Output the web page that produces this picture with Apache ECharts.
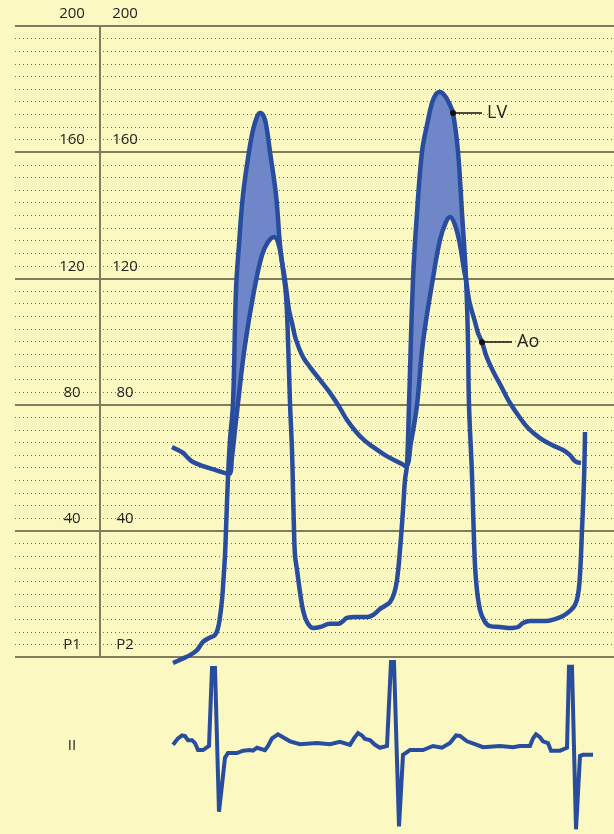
<!DOCTYPE html>
<html>
<head>
<meta charset="utf-8">
<script src="https://cdn.jsdelivr.net/npm/echarts@6/dist/echarts.min.js"></script>
<style>
html,body{margin:0;padding:0;background:#fbf8c1;}
#chart{width:614px;height:834px;}
</style>
</head>
<body>
<div id="chart"></div>
<script>
// time units (x) and pressure in mmHg (y)
const pressureTicks = [0, 40, 80, 120, 160, 200];
const lvPressure = [
  [173,-1.9],[182,-0.6],[190,0.6],[197,2.2],[203,4.8],[209,6.0],[215,7.0],[218,9.2],[220,12.7],[222,18.1],
  [223,22.2],[225,32.3],[226,40.3],[228,57.1],[230,68.8],[233,80.5],[236,116.3],[239,130.6],[243,146.4],
  [249,160.1],[253,167.0],[257,171.2],[260,172.4],[264,171.2],[267,167.0],[270,160.1],[276,146.4],[280,130.6],
  [283,122.7],[286,114.7],[288,100.5],[290,80.5],[292,65.6],[293,52.9],[294,40.3],[295,32.3],[297,27.6],
  [300,20.6],[303,14.9],[307,11.1],[313,9.2],[320,9.5],[330,10.5],[338,10.5],[343,11.4],[347,12.4],[355,12.7],
  [367,12.7],[373,13.3],[380,15.2],[385,16.2],[390,17.4],[394,20.0],[397,24.4],[400,33.9],[403,46.6],[405,56.1],
  [407,60.9],[409,79.9],[413,119.5],[417,140.7],[422,160.1],[427,168.6],[432,175.6],[436,178.4],[440,179.1],
  [445,177.8],[449,175.6],[453,172.4],[458,160.1],[462,140.7],[466,120.1],[468,99.8],[469,79.9],[472,57.7],
  [474,37.1],[476,24.4],[480,14.9],[485,11.1],[490,9.8],[500,9.5],[512,9.2],[518,9.5],[523,10.8],[530,11.4],
  [545,11.4],[555,12.0],[563,13.0],[570,14.6],[575,16.5],[578,19.7],[580,26.0],[582,40.3],[584,56.1],[585,71.3]
];
const aoPressure = [
  [172,66.6],[178,65.6],[183,64.7],[188,63.1],[193,61.8],[203,60.5],[215,59.3],[229,58.0],[232,63.4],[235,72.0],
  [238,80.5],[245,98.9],[254,116.0],[262,127.4],[268,131.5],[274,133.1],[278,131.5],[282,125.2],[285,119.5],
  [287,114.7],[289,110.0],[292,105.9],[296,100.5],[303,95.1],[310,91.9],[320,87.8],[330,83.7],[340,78.9],
  [347,75.1],[357,71.0],[365,68.5],[373,66.6],[385,64.0],[400,61.5],[406,60.5],[411,68.1],[417,79.9],[423,99.8],
  [433,120.1],[440,132.2],[446,137.9],[450,139.5],[455,136.9],[460,130.6],[464,122.7],[466,119.5],[469,113.2],
  [471,110.6],[475,106.2],[478,102.7],[482,99.8],[487,94.8],[495,89.4],[500,86.5],[505,83.4],[510,80.5],
  [518,76.7],[528,72.6],[540,69.4],[552,67.2],[563,65.6],[570,64.0],[575,62.1],[581,61.5]
];
// ejection windows (start, end) where LV exceeds Ao
const ejectionWindows = [[229,287],[406,466]];
// ECG lead II (mV)
const ecgLeadII = [
  [173,0.02],[178,0.13],[182,0.18],[185,0.17],[188,0.10],[192,0.10],[195,0.05],[198,-0.07],[203,-0.07],[209,0.0],
  [212,1.33],[215,1.33],[219,-1.12],[225,-0.2],[228,-0.12],[237,-0.12],[243,-0.08],[250,-0.07],[253,-0.08],
  [257,-0.03],[265,-0.07],[268,0.0],[272,0.13],[278,0.2],[283,0.15],[290,0.08],[300,0.03],[317,0.05],[330,0.03],
  [340,0.07],[350,0.02],[354,0.13],[358,0.22],[362,0.18],[365,0.12],[370,0.10],[375,0.02],[380,-0.03],[387,0.0],
  [391,1.43],[394,1.43],[399,-1.37],[403,-0.15],[410,-0.07],[423,-0.07],[433,0.0],[442,-0.03],[450,0.05],
  [456,0.18],[460,0.17],[467,0.08],[477,0.02],[483,-0.02],[500,0.0],[513,-0.02],[520,0.0],[530,0.0],[533,0.13],
  [536,0.2],[540,0.15],[543,0.08],[548,0.05],[551,-0.08],[560,-0.08],[567,-0.03],[569,1.35],[572,1.35],
  [576,-1.42],[580,-0.17],[583,-0.15],[593,-0.15]
];
const lvLabel = {name:'LV', from:[453,172.4], to:[482,172.4]};
const aoLabel = {name:'Ao', from:[482,99.8], to:[512,99.8]};

const BLUE = '#284d9e';
const FILL = '#6f86c9';
const MAJOR = '#7f7c5f';
const FONT = '"Open Sans", "Noto Sans", sans-serif';

const fillPolys = ejectionWindows.map(([a,b]) => {
  const top = lvPressure.filter(p => p[0] >= a && p[0] <= b);
  const bottom = aoPressure.filter(p => p[0] >= a && p[0] <= b).slice().reverse();
  return top.concat(bottom);
});

function labelLine(l){
  return {
    silent:true, symbol:['circle','none'], symbolSize:6,
    lineStyle:{color:'#111', width:1.5, type:'solid'},
    label:{show:true, position:'end', formatter:l.name, distance:5, color:'#222', fontSize:18, fontFamily:FONT},
    data:[[{coord:l.from},{coord:l.to}]]
  };
}

const axisLbl = (margin, zero) => ({
  show:true, inside:true, margin:margin, align:'center', verticalAlign:'bottom', lineHeight:24,
  fontSize:15, color:'#222', fontFamily:FONT, showMinLabel:true, showMaxLabel:true,
  formatter: v => v === 0 ? zero : String(v)
});

const chart = echarts.init(document.getElementById('chart'), null, {renderer:'canvas'});
chart.setOption({
  animation:false,
  backgroundColor:'#fbf8c1',
  textStyle:{fontFamily:FONT},
  grid:[
    {left:15, top:26, width:599, height:631},
    {left:15, top:658, width:599, height:180}
  ],
  xAxis:[
    {gridIndex:0, type:'value', min:15, max:614, show:false},
    {gridIndex:1, type:'value', min:15, max:614, show:false}
  ],
  yAxis:[
    {gridIndex:0, type:'value', min:0, max:200, interval:40, position:'left',
     axisLine:{show:false}, axisTick:{show:false}, axisLabel:axisLbl(57,'P1'),
     splitLine:{show:true, lineStyle:{color:MAJOR, width:2}},
     minorTick:{show:false, splitNumber:10},
     minorSplitLine:{show:true, lineStyle:{color:'#6e6c58', width:1, type:[1,3]}}},
    {gridIndex:0, type:'value', min:0, max:200, interval:40, position:'left', offset:-85,
     axisLine:{show:true, lineStyle:{color:MAJOR, width:2}}, axisTick:{show:false},
     axisLabel:axisLbl(25,'P2'), splitLine:{show:false}},
    {gridIndex:1, type:'value', min:-1.5, max:1.5, interval:1.5, position:'left',
     axisLine:{show:false}, axisTick:{show:false}, splitLine:{show:false},
     axisLabel:{show:true, inside:true, margin:57, align:'center', verticalAlign:'middle',
       fontSize:15, color:'#222', fontFamily:FONT, formatter: v => v === 0 ? 'II' : ''}}
  ],
  series:[
    {type:'custom', xAxisIndex:0, yAxisIndex:0, z:1, silent:true,
     data: fillPolys.map((p,i) => [p[0][0], p[0][1], i]),
     renderItem:(params, api) => {
       const poly = fillPolys[params.dataIndex];
       return {type:'polygon', shape:{points: poly.map(pt => api.coord(pt)), smooth:0.2}, style:{fill:FILL}};
     }},
    {name:'LV', type:'line', xAxisIndex:0, yAxisIndex:0, data:lvPressure, z:3, clip:false,
     showSymbol:false, smooth:0.4,
     lineStyle:{color:BLUE, width:4.5}, markLine:labelLine(lvLabel)},
    {name:'Ao', type:'line', xAxisIndex:0, yAxisIndex:0, data:aoPressure, z:3, clip:false,
     showSymbol:false, smooth:0.4,
     lineStyle:{color:BLUE, width:4.5}, markLine:labelLine(aoLabel)},
    {name:'II', type:'line', xAxisIndex:1, yAxisIndex:2, data:ecgLeadII, z:3, clip:false,
     showSymbol:false, lineStyle:{color:BLUE, width:4, join:'miter'}}
  ]
});
</script>
</body>
</html>
